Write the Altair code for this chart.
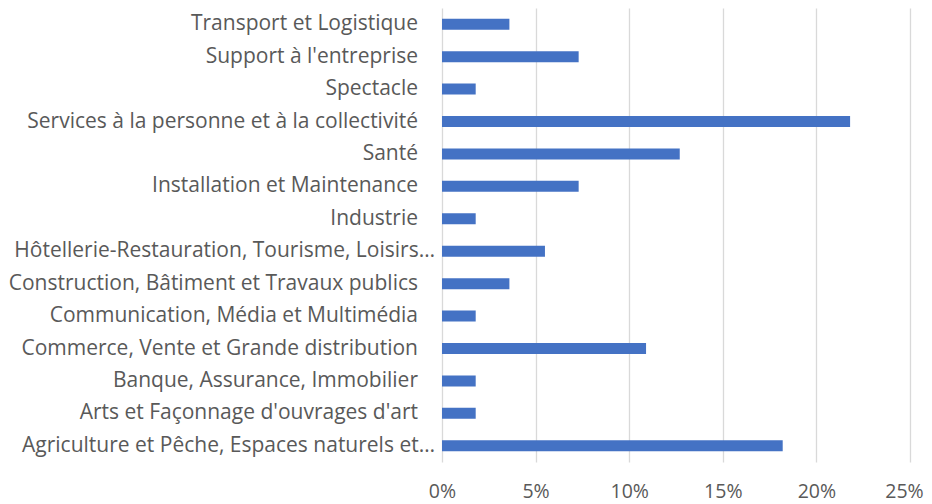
import altair as alt
import pandas as pd

categories = [
    "Transport et Logistique",
    "Support à l'entreprise",
    "Spectacle",
    "Services à la personne et à la collectivité",
    "Santé",
    "Installation et Maintenance",
    "Industrie",
    "Hôtellerie-Restauration, Tourisme, Loisirs…",
    "Construction, Bâtiment et Travaux publics",
    "Communication, Média et Multimédia",
    "Commerce, Vente et Grande distribution",
    "Banque, Assurance, Immobilier",
    "Arts et Façonnage d'ouvrages d'art",
    "Agriculture et Pêche, Espaces naturels et…",
]
shares = [0.036, 0.073, 0.018, 0.218, 0.127, 0.073, 0.018,
          0.055, 0.036, 0.018, 0.109, 0.018, 0.018, 0.182]
x_ticks = [0, 0.05, 0.10, 0.15, 0.20, 0.25]

df = pd.DataFrame({"cat": categories, "share": shares})

FONT = "Open Sans"
GRAY = "#595959"

y_enc = alt.Y(
    "cat:N",
    sort=categories,
    title=None,
    scale=alt.Scale(paddingInner=0.66, paddingOuter=0.33),
    axis=alt.Axis(domain=False, ticks=False, grid=False, labels=False),
)

bars = alt.Chart(df).mark_bar(color="#4472C4").encode(
    y=y_enc,
    x=alt.X(
        "share:Q",
        title=None,
        scale=alt.Scale(domain=[0, 0.25], nice=False),
        axis=alt.Axis(
            values=x_ticks, format=".0%", orient="bottom",
            domain=False, ticks=False,
            grid=True, gridColor="#D9D9D9", gridWidth=1.3,
            labelFont=FONT, labelFontSize=19.5, labelColor=GRAY,
            labelPadding=20, labelFlush=False,
            labelOffset={"condition": {"test": "datum.value >= 0.25", "value": -6}, "value": 0},
        ),
    ),
)

text_style = dict(align="right", baseline="middle", font=FONT, fontSize=21, color=GRAY)

labels_full = alt.Chart(df).transform_filter(
    "indexof(datum.cat, '…') < 0"
).mark_text(**text_style).encode(
    y=alt.Y("cat:N", sort=categories),
    x=alt.value(-24),
    text="cat:N",
)

labels_cut = alt.Chart(df).transform_filter(
    "indexof(datum.cat, '…') >= 0"
).mark_text(**text_style).encode(
    y=alt.Y("cat:N", sort=categories),
    x=alt.value(-7),
    text="cat:N",
)

chart = alt.layer(bars, labels_full, labels_cut).properties(
    width=468,
    height=454,
    autosize=alt.AutoSizeParams(type="none"),
    padding={"left": 434, "top": 0, "right": 14, "bottom": 42},
).configure_view(stroke=None)

chart.save("out.html", embed_options={"renderer": "svg", "actions": False})
